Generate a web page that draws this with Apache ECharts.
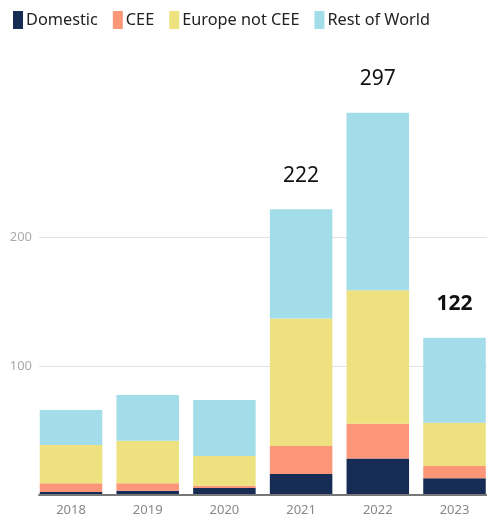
<!DOCTYPE html>
<html><head><meta charset="utf-8">
<script src="https://cdn.jsdelivr.net/npm/echarts@6/dist/echarts.min.js"></script>
<style>html,body{margin:0;padding:0;background:#fff}#c{width:487px;height:516px}</style>
</head><body><div id="c"></div>
<script>
const years = ['2018','2019','2020','2021','2022','2023'];
const domestic = [2, 3, 5, 16, 28, 12.6];
const cee = [6.7, 5.7, 1.8, 21.7, 27, 9.6];
const europe = [29.8, 33.2, 23.2, 99.3, 104, 33.7];
const restOfWorld = [27.3, 35.5, 43.5, 85, 138, 66.1];
const totalLabels = ['', '', '', '222', '297', '122'];
const boldLabel = [false, false, false, false, false, true];
const yTicks = [0, 100, 200];

const font = '"Noto Sans", sans-serif';
const chart = echarts.init(document.getElementById('c'), null, {renderer:'canvas'});
function seg(name, data, color, extra) {
  return Object.assign({
    name, type:'bar', stack:'total', data, xAxisIndex:0, yAxisIndex:0,
    barCategoryGap:'18.5%', itemStyle:{color}, emphasis:{disabled:true}
  }, extra || {});
}
chart.setOption({
  animation:false,
  textStyle:{fontFamily:font},
  legend:{
    top:6, left:8, itemWidth:10, itemHeight:18, itemGap:15,
    icon:'rect',
    textStyle:{fontSize:16.3, color:'#222', fontFamily:font, padding:[0,0,0,-2]},
    data:['Domestic','CEE','Europe not CEE','Rest of World']
  },
  grid:[
    {left:32.65, width:460.2, top:109, bottom:21.5, outerBoundsMode:'none', containLabel:false},
    {left:39, right:0, top:237.5, bottom:21.5, outerBoundsMode:'none', containLabel:false}
  ],
  xAxis:[
    {type:'category', gridIndex:0, data:years, axisLine:{show:false}, axisTick:{show:false},
     axisLabel:{color:'#888', fontSize:13, margin:9, fontFamily:font}},
    {type:'category', gridIndex:1, data:years, axisLine:{show:true, lineStyle:{color:'#777', width:2}},
     axisTick:{show:false}, axisLabel:{show:false}, z:5}
  ],
  yAxis:[
    {type:'value', gridIndex:0, min:0, max:300, show:false, splitLine:{show:false}},
    {type:'value', gridIndex:1, min:yTicks[0], max:yTicks[yTicks.length-1], interval:100,
     axisLine:{show:false}, axisTick:{show:false},
     axisLabel:{showMinLabel:false, color:'#aaa', fontSize:13, margin:7, fontFamily:font},
     splitLine:{lineStyle:{color:'#e3e3e3', width:1}}}
  ],
  series:[
    seg('Domestic', domestic, '#172c54'),
    seg('CEE', cee, '#fc9679'),
    seg('Europe not CEE', europe, '#ede27f'),
    seg('Rest of World', restOfWorld.map((v,i)=>({
      value:v,
      label:{show: totalLabels[i] !== '', position:'top', distance:23,
        formatter: totalLabels[i], fontSize:21, color:'#111',
        fontWeight: boldLabel[i] ? 'bold' : 'normal', fontFamily:font}
    })), '#a2dde9')
  ]
});
</script></body></html>
